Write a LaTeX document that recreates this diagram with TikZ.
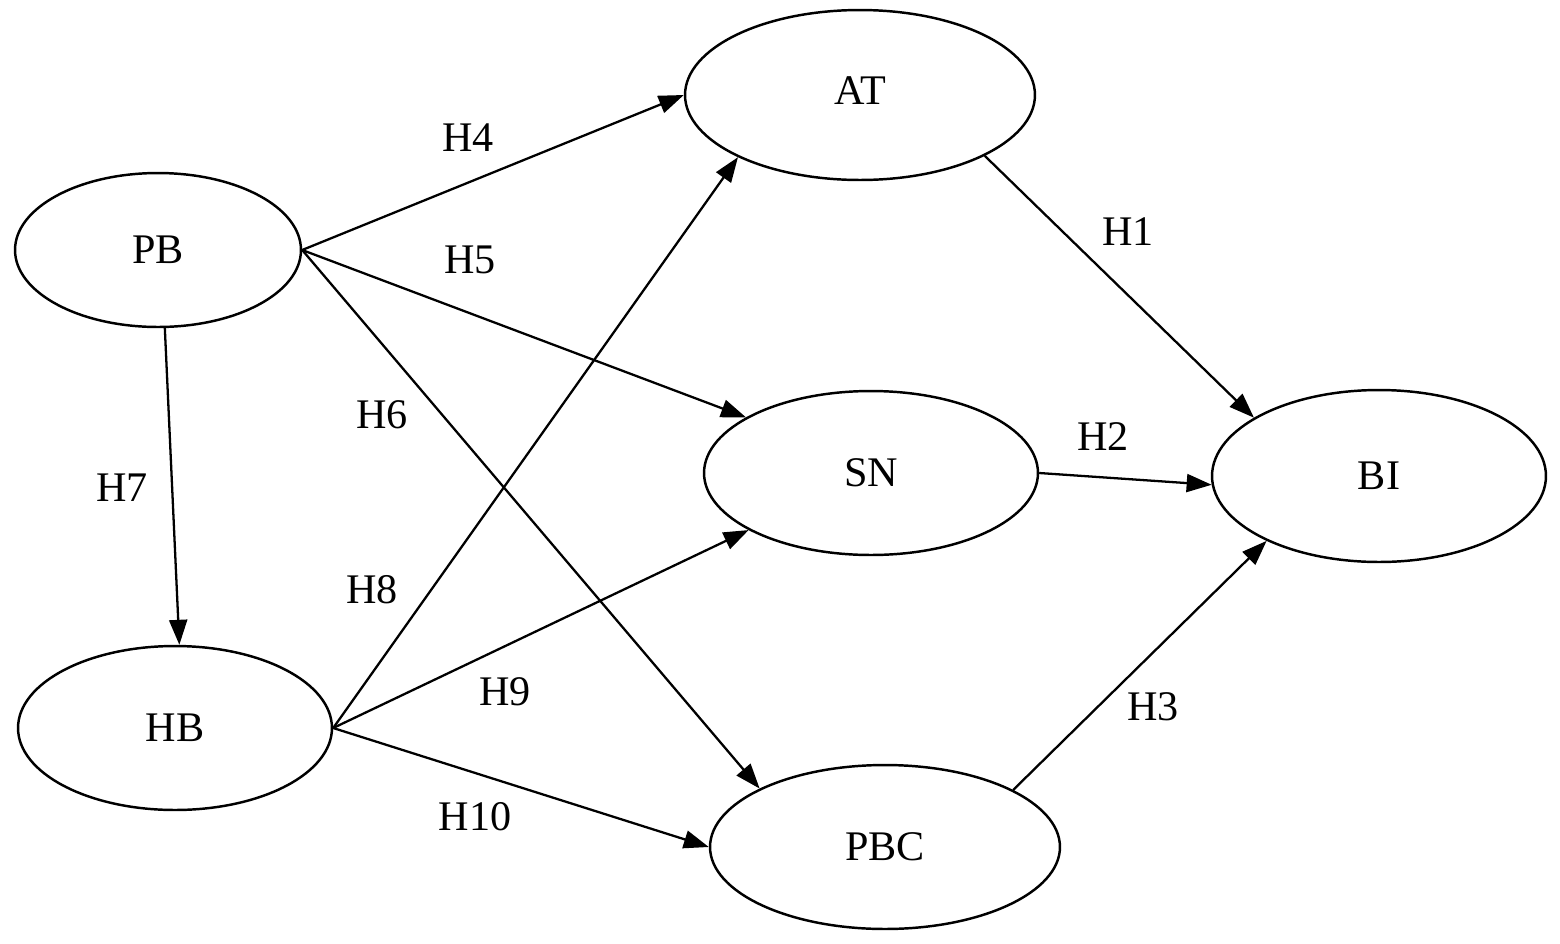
\documentclass[tikz,border=0pt]{standalone}
\usepackage{fontspec}
\setmainfont{Liberation Serif}
\usetikzlibrary{shapes.geometric,arrows.meta}
\begin{document}
\begin{tikzpicture}[x=0.02cm,y=-0.02cm,
  ell/.style={ellipse,draw,line width=1.4pt,inner sep=0pt,font=\fontsize{24}{28}\selectfont},
  arr/.style={line width=1.3pt,-{Triangle[length=0.5cm,width=0.36cm]}},
  lab/.style={font=\fontsize{24}{28}\selectfont}]
\useasboundingbox (0,0) rectangle (1560,944);
\node[ell,minimum width=7cm,minimum height=3.4cm] (AT) at (860,95) {AT\vphantom{g}\vspace{0pt}};
\node[ell,minimum width=5.72cm,minimum height=3.08cm] (PB) at (158,250) {PB};
\node[ell,minimum width=6.68cm,minimum height=3.28cm] (SN) at (871,473) {SN};
\node[ell,minimum width=6.68cm,minimum height=3.44cm] (BI) at (1379,476) {BI};
\node[ell,minimum width=6.28cm,minimum height=3.28cm] (HB) at (175,728) {HB};
\node[ell,minimum width=7cm,minimum height=3.28cm] (PBC) at (885,847) {PBC};
\draw[arr] (PB.east) -- (AT.west);
\draw[arr] (PB.east) -- (SN.156);
\draw[arr] (PB.east) -- (PBC.155);
\draw[arr] (PB.-85) -- (HB.87);
\draw[arr] (HB.east) -- (AT.207);
\draw[arr] (HB.east) -- (SN.205);
\draw[arr] (HB.east) -- (PBC.west);
\draw[arr] (AT.-26) -- (BI.155);
\draw[arr] (SN.east) -- (BI.183);
\draw[arr] (PBC.24) -- (BI.210);
\node[lab] (h4) at (468,138) {H4};
\node[lab] (h5) at (470,260) {H5};
\node[lab] (h6) at (382,415) {H6};
\node[lab] (h7) at (122,488) {H7};
\node[lab] (h8) at (372,590) {H8};
\node[lab] (h9) at (505,692) {H9};
\node[lab] (h10) at (475,817) {H10};
\node[lab] (h1) at (1128,232) {H1};
\node[lab] (h2) at (1103,437) {H2};
\node[lab] (h3) at (1153,707) {H3};
\end{tikzpicture}
\end{document}
